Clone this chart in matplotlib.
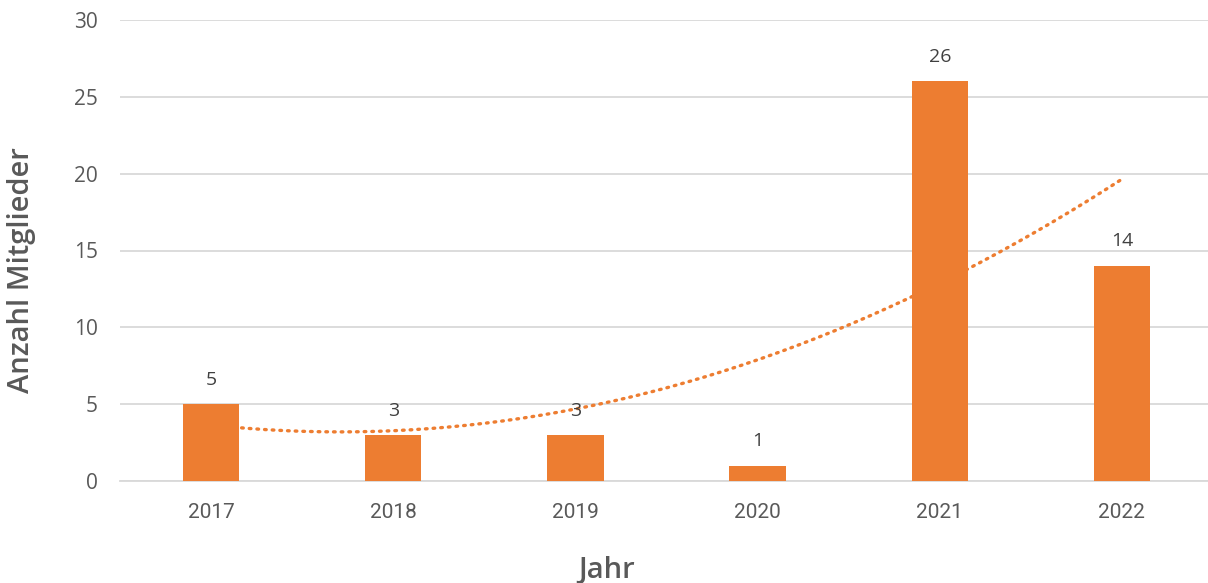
import matplotlib
matplotlib.use("Agg")
import matplotlib.pyplot as plt
import numpy as np

years = ["2017", "2018", "2019", "2020", "2021", "2022"]
members = [5, 3, 3, 1, 26, 14]
y_ticks = [0, 5, 10, 15, 20, 25, 30]

ORANGE = "#ED7D31"
GREY = "#595959"
GRID = "#D9D9D9"

plt.rcParams["font.family"] = ["Open Sans", "DejaVu Sans"]

fig = plt.figure(figsize=(12.08, 5.83), dpi=100)
ax = fig.add_axes([120 / 1208, 1 - 481 / 583, (1213 - 120) / 1208, (481 - 20) / 583])

x = np.arange(len(years))
ax.bar(x, members, width=0.31, color=ORANGE, zorder=3)

# polynomial (order 2) trendline, drawn behind the bars
coef = np.polyfit(x, members, 2)
xs = np.linspace(x[0], x[-1], 200)
ax.plot(xs, np.polyval(coef, xs), color=ORANGE, lw=2.4, ls=(0, (0.5, 1.8)),
        dash_capstyle="round", zorder=2)

for xi, v in zip(x, members):
    ax.text(xi, v + 1.0, str(v), ha="center", va="bottom", fontsize=14, color="#404040")

ax.set_xlim(-0.5, len(years) - 0.5)
ax.set_ylim(0, 30)
ax.set_xticks(x)
ax.set_xticklabels(years, family=["Roboto", "DejaVu Sans"])
ax.set_yticks(y_ticks)
ax.tick_params(axis="both", length=0, labelsize=15, labelcolor=GREY)
ax.tick_params(axis="x", pad=16)
ax.tick_params(axis="y", pad=16)
ax.grid(axis="y", color=GRID, lw=1.3, zorder=0)
for s in ["top", "right", "left"]:
    ax.spines[s].set_visible(False)
ax.spines["bottom"].set_color(GRID)
ax.spines["bottom"].set_linewidth(1.3)

ax.set_xlabel("Jahr", fontsize=21, color=GREY, fontweight="semibold")
ax.set_ylabel("Anzahl Mitglieder", fontsize=21, color=GREY, fontweight="semibold")
ax.xaxis.set_label_coords(0.445, -0.16)
ax.yaxis.set_label_coords(-0.077, 0.457)

fig.savefig("out.png", dpi=100)
